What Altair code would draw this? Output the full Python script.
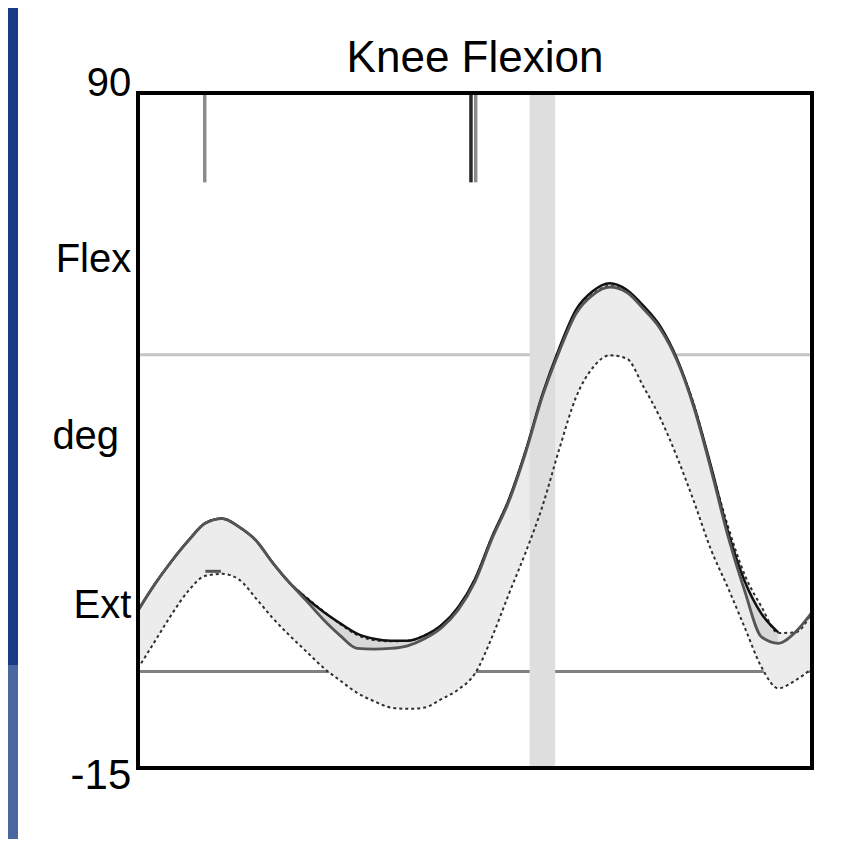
import altair as alt
import pandas as pd

# ---------------- data ----------------
gait_pct = [0, 2.5, 5, 7.5, 10, 12.5, 15, 17.5, 20, 22.5, 25, 27.5, 30, 32.5, 35, 37.5,
            40, 42.5, 45, 47.5, 50, 52.5, 55, 57.5, 60, 62.5, 65, 67.5, 70, 72.5, 75,
            77.5, 80, 82.5, 85, 87.5, 90, 92.5, 95, 97.5, 100]

normal_upper = [9.5, 13.6, 17.2, 20.4, 23.1, 23.8, 22.5, 20.4, 16.9, 13.8, 11.5, 9.4, 7.4,
                5.7, 4.9, 4.7, 4.8, 5.6, 7.2, 10.0, 14.4, 20.9, 26.7, 34.3, 43.0, 50.0,
                55.9, 58.7, 60.0, 59.1, 56.6, 53.5, 48.4, 41.5, 31.9, 22.7, 15.1, 10.1,
                6.0, 6.1, 9.2]

normal_lower = [0.5, 4.7, 8.9, 12.6, 14.9, 15.2, 14.3, 11.4, 8.3, 5.6, 3.1, 0.6, -1.4,
                -3.3, -4.6, -5.6, -5.8, -5.6, -4.3, -2.8, -0.3, 5.3, 12.0, 18.5, 25.7,
                34.6, 42.7, 47.3, 49.2, 48.7, 44.3, 39.4, 33.3, 26.4, 19.0, 13.1, 6.9,
                0.7, -2.6, -1.4, 0.5]

subject_black = [9.5, 13.6, 17.2, 20.4, 23.1, 23.8, 22.5, 20.4, 16.9, 13.8, 11.4, 9.3, 7.5,
                 5.9, 5.1, 4.8, 4.8, 5.6, 7.2, 10.0, 14.4, 20.9, 26.7, 34.3, 43.1, 50.3,
                 56.3, 59.2, 60.4, 59.4, 56.9, 53.7, 48.6, 41.3, 32.0, 21.9, 14.1, 9.0,
                 6.1, None, None]

subject_gray = [9.5, 13.6, 17.2, 20.4, 23.1, 23.8, 22.5, 20.4, 16.9, 13.8, 11.0, 8.1, 5.6,
                3.6, 3.5, 3.6, 4.0, 5.1, 6.8, 9.6, 14.0, 20.6, 26.4, 34.0, 42.8, 49.8,
                55.7, 58.6, 59.8, 59.0, 56.4, 53.3, 48.3, 41.0, 31.5, 21.2, 12.6, 5.4,
                4.4, 6.1, 9.2]

short_seg_pct = [10.0, 12.3]
short_seg_deg = [15.6, 15.6]

hline_values = [49.3, 0]
hline_colors = ["#c4c4c4", "#808080"]

event_pct = [9.9, 49.4, 50.1]
event_colors = ["#8c8c8c", "#2a2a2a", "#8c8c8c"]
event_top = [90, 90, 90]
event_bottom = [76.1, 76.1, 76.1]

toeoff_start = [58.1]
toeoff_end = [61.9]

ylabel_text = ["90", "Flex", "deg", "Ext", "-15"]
ylabel_deg = [89.6, 62.1, 34.6, 8.4, -18.2]
ylabel_pct = [-1.0, -1.0, -2.8, -1.0, -1.0]
ylabel_size = [40, 40, 40, 40, 42]

title_text = ["Knee Flexion"]
title_pct = [50]
title_deg = [93.2]

# ---------------- chart ----------------
FONT = "Liberation Sans"
xs = alt.Scale(domain=[0, 100], nice=False, zero=False)
ys = alt.Scale(domain=[-15, 90], nice=False, zero=False)


def X(f):
    return alt.X(f, type="quantitative", scale=xs, axis=None)


def Y(f):
    return alt.Y(f, type="quantitative", scale=ys, axis=None)


curves = pd.DataFrame({
    "pct": gait_pct,
    "upper": normal_upper,
    "lower": normal_lower,
    "black": subject_black,
    "gray": subject_gray,
})

one = pd.DataFrame({"k": [0]})

blue_dark = alt.Chart(one).mark_rect(color="#183a84").encode(
    x=alt.value(-130), x2=alt.value(-120), y=alt.value(-85), y2=alt.value(572))
blue_light = alt.Chart(one).mark_rect(color="#4b67a1").encode(
    x=alt.value(-130), x2=alt.value(-120), y=alt.value(572), y2=alt.value(760))

hl = alt.Chart(pd.DataFrame({"v": hline_values, "c": hline_colors})).mark_rule(strokeWidth=3).encode(
    y=Y("v"), color=alt.Color("c:N", scale=None))

band = alt.Chart(curves).mark_area(color="#ececec", interpolate="monotone").encode(
    x=X("pct"), y=Y("lower"), y2="upper")

toeoff = alt.Chart(pd.DataFrame({"a": toeoff_start, "b": toeoff_end, "lo": [-15], "hi": [90]})).mark_rect(
    color="#dedede").encode(x=X("a"), x2="b", y=Y("lo"), y2="hi")

between = alt.Chart(curves).transform_filter("isValid(datum.black)").mark_area(
    color="#d8d8d8", interpolate="monotone").encode(x=X("pct"), y=Y("gray"), y2="black")

upper_edge = alt.Chart(curves).mark_line(color="#2e2e2e", strokeWidth=2, strokeDash=[3, 3],
                                          interpolate="monotone").encode(x=X("pct"), y=Y("upper"))
lower_edge = alt.Chart(curves).mark_line(color="#2e2e2e", strokeWidth=2, strokeDash=[3, 3],
                                          interpolate="monotone").encode(x=X("pct"), y=Y("lower"))

black_line = alt.Chart(curves).transform_filter("isValid(datum.black)").mark_line(
    color="#111111", strokeWidth=2.5, interpolate="monotone").encode(x=X("pct"), y=Y("black"))
gray_line = alt.Chart(curves).mark_line(
    color="#555555", strokeWidth=2.8, interpolate="monotone").encode(x=X("pct"), y=Y("gray"))

short_seg = alt.Chart(pd.DataFrame({"p": short_seg_pct, "d": short_seg_deg})).mark_line(
    color="#555555", strokeWidth=3).encode(x=X("p"), y=Y("d"))

events = alt.Chart(pd.DataFrame({"p": event_pct, "c": event_colors, "t": event_top, "b": event_bottom})).mark_rule(
    strokeWidth=3.5).encode(x=X("p"), y=Y("b"), y2="t", color=alt.Color("c:N", scale=None))

ylabels = alt.Chart(pd.DataFrame({"t": ylabel_text, "d": ylabel_deg, "p": ylabel_pct, "s": ylabel_size})).mark_text(
    align="right", baseline="alphabetic", font=FONT, color="black").encode(
    x=X("p"), y=Y("d"), text="t:N", size=alt.Size("s:Q", scale=None, legend=None))

title = alt.Chart(pd.DataFrame({"t": title_text, "p": title_pct, "d": title_deg})).mark_text(
    align="center", baseline="alphabetic", fontSize=44, font=FONT, color="black").encode(
    x=X("p"), y=Y("d"), text="t:N")

frame = alt.Chart(pd.DataFrame({"a": [0], "b": [100], "lo": [-15], "hi": [90]})).mark_rect(
    fillOpacity=0, stroke="black", strokeWidth=4).encode(x=X("a"), x2="b", y=Y("lo"), y2="hi")

chart = alt.layer(
    blue_dark, blue_light, hl, band, toeoff, between, upper_edge, lower_edge,
    black_line, gray_line, short_seg, events, ylabels, title, frame
).properties(
    width=674, height=675,
    padding={"left": 130, "top": 85, "right": 30, "bottom": 71},
    autosize=alt.AutoSizeParams(type="none"),
    background="white",
).configure_view(stroke=None)

chart.save("out.html", embed_options={"renderer": "svg", "actions": False})
